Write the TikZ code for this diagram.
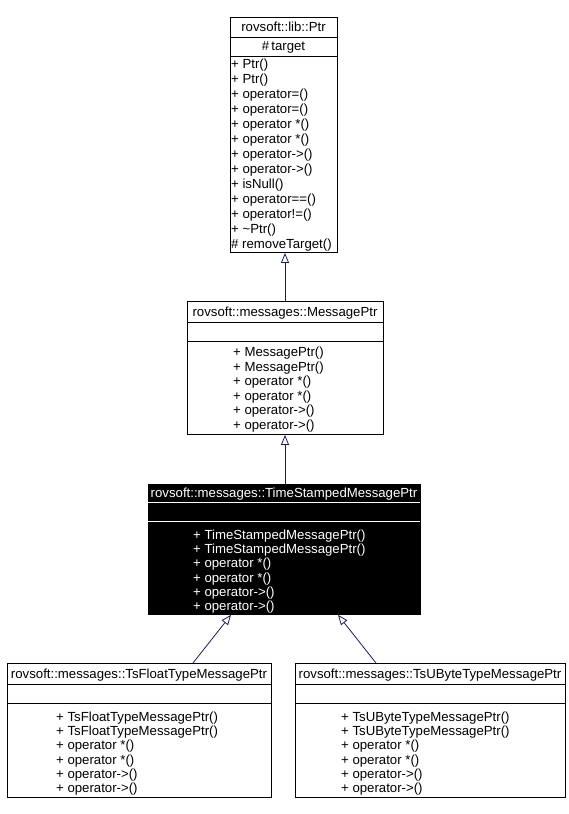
\documentclass[tikz,border=0pt]{standalone}
\usepackage{fontspec}
\setmainfont{Liberation Sans}
\usetikzlibrary{arrows.meta}
\definecolor{edgeblue}{HTML}{191970}
\tikzset{
  cls/.style={draw=black, line width=0.9pt, anchor=north west, inner sep=0pt},
  clsdark/.style={cls, fill=black},
  txt/.style={inner sep=0pt, font=\fontsize{13.2}{15}\selectfont},
  ttl/.style={txt, anchor=base},
  mth/.style={txt, anchor=base west},
  inh/.style={draw=edgeblue, line width=0.8pt, -{Triangle[open, length=10pt, width=8pt, fill=white]}},
  sep/.style={line width=0.9pt}
}
\begin{document}
\begin{tikzpicture}[x=1pt,y=-1pt]
\useasboundingbox (0,0) rectangle (569,814);
% ---------- rovsoft::lib::Ptr
\node[cls, minimum width=107pt, minimum height=235pt] (ptr) at (230,17) {};
\draw[sep] (230,37) -- (337,37);
\draw[sep] (230,56) -- (337,56);
\node[ttl] (ptrt) at (283.5,31.5) {rovsoft::lib::Ptr};
\node[ttl] (ptra) at (283.5,50.5) {\#\,target};
\foreach \t [count=\i from 0] in {+ Ptr(),+ Ptr(),+ operator=(),+ operator=(),+ operator *(),+ operator *(),+ operator->(),+ operator->(),+ isNull(),+ operator==(),+ operator!=(),+ \char"007E Ptr(),\# removeTarget()}
  \node[mth] (ptrm\i) at (231,68.5+15*\i) {\t};
% ---------- MessagePtr
\node[cls, minimum width=196pt, minimum height=133pt] (msg) at (187,301) {};
\draw[sep] (187,322) -- (383,322);
\draw[sep] (187,341) -- (383,341);
\node[ttl] (msgt) at (285,316.5) {rovsoft::messages::MessagePtr};
\foreach \t [count=\i from 0] in {+ MessagePtr(),+ MessagePtr(),+ operator *(),+ operator *(),+ operator->(),+ operator->()}
  \node[mth] (msgm\i) at (233,356.5+14.6*\i) {\t};
% ---------- TimeStampedMessagePtr
\node[clsdark, minimum width=272pt, minimum height=130pt] (ts) at (148,484) {};
\draw[sep, white] (148,502) -- (420,502);
\draw[sep, white] (148,521) -- (420,521);
\node[ttl, text=white] (tst) at (284,497.5) {rovsoft::messages::TimeStampedMessagePtr};
\foreach \t [count=\i from 0] in {+ TimeStampedMessagePtr(),+ TimeStampedMessagePtr(),+ operator *(),+ operator *(),+ operator->(),+ operator->()}
  \node[mth, text=white] (tsm\i) at (193,539.5+14.2*\i) {\t};
% ---------- TsFloatTypeMessagePtr
\node[cls, minimum width=264pt, minimum height=134pt] (flt) at (7,663) {};
\draw[sep] (7,684) -- (271,684);
\draw[sep] (7,703) -- (271,703);
\node[ttl] (fltt) at (139,678.5) {rovsoft::messages::TsFloatTypeMessagePtr};
\foreach \t [count=\i from 0] in {+ TsFloatTypeMessagePtr(),+ TsFloatTypeMessagePtr(),+ operator *(),+ operator *(),+ operator->(),+ operator->()}
  \node[mth] (fltm\i) at (56,721.5+14.2*\i) {\t};
% ---------- TsUByteTypeMessagePtr
\node[cls, minimum width=270pt, minimum height=134pt] (ub) at (295,663) {};
\draw[sep] (295,684) -- (565,684);
\draw[sep] (295,703) -- (565,703);
\node[ttl] (ubt) at (430,678.5) {rovsoft::messages::TsUByteTypeMessagePtr};
\foreach \t [count=\i from 0] in {+ TsUByteTypeMessagePtr(),+ TsUByteTypeMessagePtr(),+ operator *(),+ operator *(),+ operator->(),+ operator->()}
  \node[mth] (ubm\i) at (341,721.5+14.2*\i) {\t};
% ---------- inheritance
\draw[inh] ([xshift=98pt]msg.north west) -- ([xshift=55pt]ptr.south west);
\draw[inh] ([xshift=137pt]ts.north west) -- ([xshift=98pt]msg.south west);
\draw[inh] ([xshift=186pt]flt.north west) -- ([xshift=83pt]ts.south west);
\draw[inh] ([xshift=81pt]ub.north west) -- ([xshift=190pt]ts.south west);
\end{tikzpicture}
\end{document}
